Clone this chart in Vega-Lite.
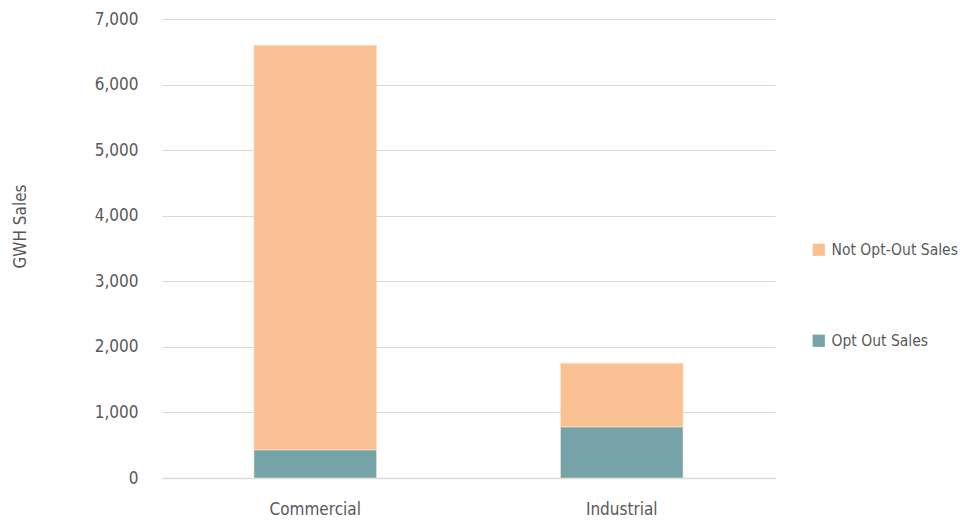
{
  "$schema": "https://vega.github.io/schema/vega-lite/v6.json",
  "width": 613,
  "height": 459,
  "autosize": {"type": "none"},
  "padding": {"left": 162, "top": 19, "right": 186, "bottom": 47},
  "background": "white",
  "data": {
    "values": [
      {"sector": "Commercial", "series": "Opt Out Sales", "gwh": 430},
      {"sector": "Commercial", "series": "Not Opt-Out Sales", "gwh": 6170},
      {"sector": "Industrial", "series": "Opt Out Sales", "gwh": 780},
      {"sector": "Industrial", "series": "Not Opt-Out Sales", "gwh": 970}
    ]
  },
  "config": {
    "font": "DejaVu Sans Condensed",
    "view": {"stroke": null}
  },
  "mark": {"type": "bar", "stroke": "#fbe3cf", "strokeWidth": 0.6},
  "encoding": {
    "x": {
      "field": "sector",
      "type": "nominal",
      "sort": ["Commercial", "Industrial"],
      "scale": {"paddingInner": 0.6, "paddingOuter": 0.3},
      "axis": {
        "title": null,
        "labelAngle": 0,
        "labelFontSize": 17,
        "labelColor": "#595959",
        "labelPadding": 23,
        "ticks": false,
        "domainColor": "#d9d9d9",
        "domainWidth": 1.5
      }
    },
    "y": {
      "field": "gwh",
      "type": "quantitative",
      "stack": "zero",
      "scale": {"domain": [0, 7000]},
      "axis": {
        "title": "GWH Sales",
        "titleFontSize": 17,
        "titleFontWeight": "normal",
        "titleColor": "#595959",
        "titleX": -142,
        "titleY": 207,
        "titleAngle": -90,
        "titleAlign": "center",
        "titleBaseline": "middle",
        "values": [0, 1000, 2000, 3000, 4000, 5000, 6000, 7000],
        "format": ",d",
        "labelFontSize": 17,
        "labelColor": "#595959",
        "labelPadding": 24,
        "ticks": false,
        "domain": false,
        "gridColor": "#d9d9d9",
        "gridWidth": 1.2
      }
    },
    "color": {
      "field": "series",
      "type": "nominal",
      "scale": {
        "domain": ["Not Opt-Out Sales", "Opt Out Sales"],
        "range": ["#f9c192", "#76a3a8"]
      },
      "legend": {
        "title": null,
        "orient": "none",
        "legendX": 649,
        "legendY": 223,
        "symbolType": "square",
        "symbolSize": 150,
        "symbolStrokeWidth": 0,
        "labelFontSize": 15.5,
        "labelColor": "#595959",
        "labelLimit": 200,
        "rowPadding": 74,
        "labelOffset": 5
      }
    },
    "order": {"field": "series", "sort": "descending"}
  }
}
